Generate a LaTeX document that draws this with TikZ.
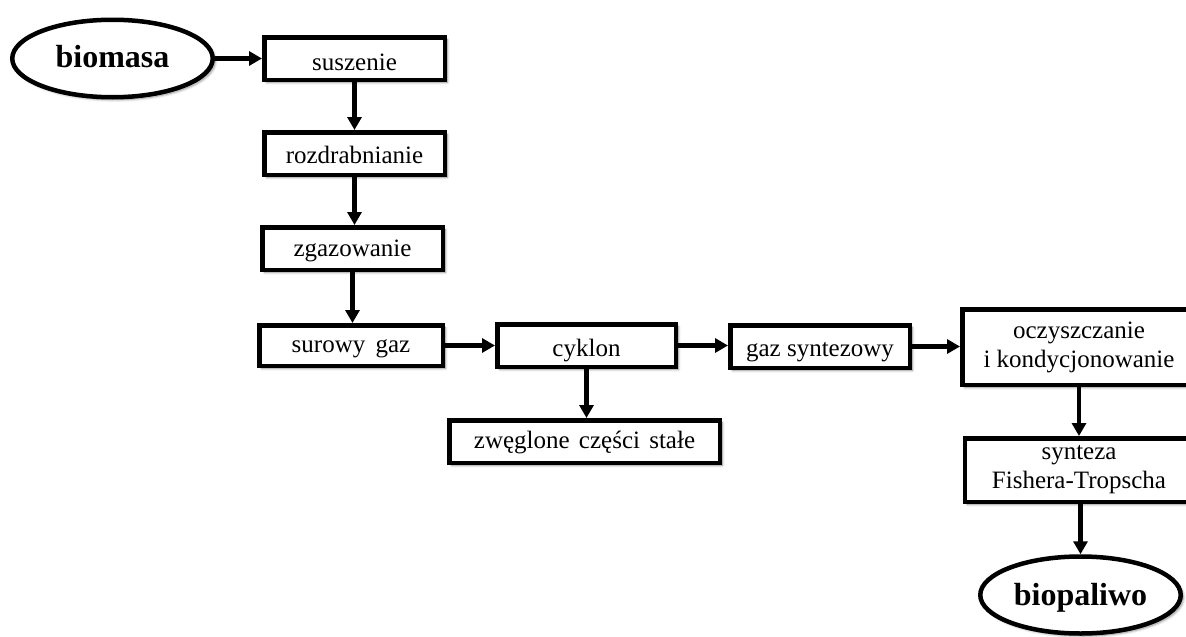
\documentclass[tikz,border=0pt]{standalone}
\usepackage{fontspec}
\setmainfont{Liberation Serif}
\usetikzlibrary{arrows.meta,shapes.geometric,shadows.blur}
\tikzset{
  every node/.style={font=\fontsize{25}{29}\selectfont, text=black},
  bl/.style={text height=#1, text depth=0pt},
  box/.style={draw=black, line width=4.5pt, fill=white, rectangle, inner sep=0pt,
    align=center,
    blur shadow={shadow xshift=2.5pt, shadow yshift=-2.5pt, shadow opacity=45, shadow blur steps=6, shadow blur radius=2.5pt}},
  oval/.style={draw=black, line width=4.5pt, fill=white, ellipse, inner sep=0pt,
    font=\fontsize{32}{36}\selectfont\bfseries,
    blur shadow={shadow xshift=2.5pt, shadow yshift=-2.5pt, shadow opacity=45, shadow blur steps=6, shadow blur radius=2.5pt}},
  flow/.style={line width=4.5pt, -{Triangle[length=13pt,width=14pt]}}
}
\begin{document}
\begin{tikzpicture}[x=1pt,y=-1pt]
\useasboundingbox (0,0) rectangle (1186,637);
\node[oval, bl=17pt, minimum width=200.5pt, minimum height=77.5pt] (bio) at (112.5,58.5) {biomasa};
\node[box, bl=23pt, minimum width=180.5pt, minimum height=42.5pt] (sus) at (354.5,58.5) {suszenie};
\node[box, bl=20pt, minimum width=180.5pt, minimum height=42.5pt] (roz) at (354.5,153.5) {rozdrabnianie};
\node[box, bl=15pt, minimum width=180.5pt, minimum height=42.5pt] (zga) at (352.5,248.5) {zgazowanie};
\node[box, bl=14pt, minimum width=183.5pt, minimum height=40.5pt] (sur) at (351,345.5) {surowy\hspace{4pt} gaz};
\node[box, bl=22pt, minimum width=178.5pt, minimum height=42.5pt] (cyk) at (586.5,345.5) {cyklon};
\node[box, bl=13pt, minimum width=270.5pt, minimum height=42.5pt] (zwe) at (584.5,441.5) {zwęglone\hspace{3pt} części\hspace{3pt} stałe};
\node[box, bl=19pt, minimum width=179.5pt, minimum height=42.5pt] (gaz) at (820,346.5) {gaz syntezowy};
\node[box, minimum width=233.5pt, minimum height=75.5pt] (ocz) at (1079,347) {oczyszczanie\\i kondycjonowanie};
\node[box, minimum width=228pt, minimum height=63.5pt] (syn) at (1079,470) {synteza\\Fishera-Tropscha};
\node[oval, bl=20pt, minimum width=200.5pt, minimum height=77pt] (bp) at (1080.5,595) {biopaliwo};
\draw[flow] (bio.east) -- (sus.west);
\draw[flow] (sus.south) -- (roz.north);
\draw[flow] (roz.south) -- (roz.south |- zga.north);
\draw[flow] (zga.south) -- (zga.south |- sur.north);
\draw[flow] (sur.east) -- (sur.east -| cyk.west);
\draw[flow] (cyk.south) -- (cyk.south |- zwe.north);
\draw[flow] (cyk.east) -- (cyk.east -| gaz.west);
\draw[flow] (gaz.east) -- (gaz.east -| ocz.west);
\draw[flow] (ocz.south) -- (syn.north);
\draw[flow] (syn.south -| bp.north) -- (bp.north);
\end{tikzpicture}
\end{document}
